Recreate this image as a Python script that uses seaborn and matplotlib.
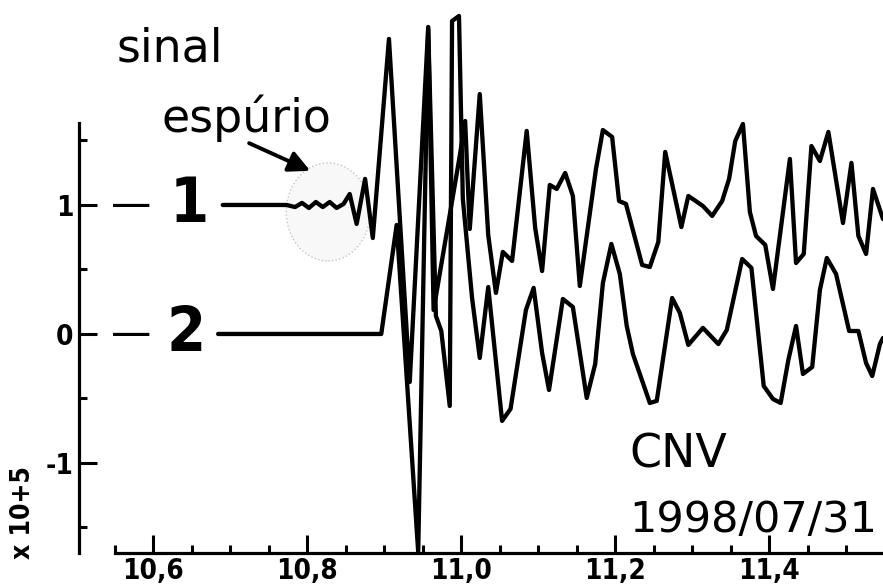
import matplotlib
matplotlib.use('Agg')
import matplotlib.pyplot as plt
from matplotlib.patches import Ellipse
from matplotlib.ticker import FixedLocator, FuncFormatter
import pandas as pd
import seaborn as sns

# traço 1: sinal com o ruído espúrio (deslocado +1), tempo em s, amplitude x 10^5
t1 = [10.690, 10.773, 10.784, 10.793, 10.802, 10.811, 10.820, 10.829, 10.838, 10.847,
      10.855, 10.864, 10.875, 10.885, 10.906, 10.933, 10.957, 10.964, 10.994, 10.998,
      11.005, 11.011, 11.024, 11.035, 11.045, 11.054, 11.066, 11.085, 11.096, 11.105,
      11.115, 11.124, 11.135, 11.145, 11.154, 11.175, 11.184, 11.196, 11.205, 11.214,
      11.235, 11.245, 11.256, 11.265, 11.286, 11.295, 11.314, 11.326, 11.339, 11.348,
      11.356, 11.366, 11.375, 11.383, 11.395, 11.405, 11.427, 11.435, 11.445, 11.455,
      11.466, 11.477, 11.496, 11.507, 11.516, 11.526, 11.535, 11.548]
v1 = [1.000, 1.000, 0.984, 1.016, 0.977, 1.023, 0.984, 1.023, 0.977, 1.008,
      1.085, 0.853, 1.202, 0.744, 2.287, -0.372, 2.380, 0.186, 1.240, 1.380,
      1.651, 0.814, 1.860, 0.767, 0.318, 0.636, 0.566, 1.574, 0.822, 0.488,
      1.155, 1.124, 1.248, 1.070, 0.372, 1.279, 1.581, 1.527, 1.031, 1.008,
      0.535, 0.519, 0.713, 1.411, 0.829, 1.070, 0.992, 0.915, 1.031, 1.202,
      1.496, 1.628, 0.946, 0.760, 0.690, 0.349, 1.357, 0.550, 0.620, 1.457,
      1.341, 1.566, 0.860, 1.326, 0.760, 0.620, 1.124, 0.891]

# traço 2: sinal corrigido
t2 = [10.684, 10.896, 10.916, 10.944, 10.957, 10.967, 10.974, 10.985, 10.988, 10.997,
      11.002, 11.014, 11.024, 11.035, 11.053, 11.064, 11.084, 11.094, 11.105, 11.114,
      11.132, 11.145, 11.163, 11.174, 11.184, 11.195, 11.206, 11.215, 11.223, 11.245,
      11.254, 11.274, 11.284, 11.295, 11.314, 11.334, 11.345, 11.365, 11.377, 11.393,
      11.405, 11.415, 11.425, 11.435, 11.444, 11.456, 11.466, 11.475, 11.487, 11.504,
      11.516, 11.526, 11.534, 11.544, 11.548]
v2 = [0.000, 0.000, 0.845, -1.690, 2.364, 0.140, 0.023, -0.558, 2.426, 2.465,
      1.047, 0.279, -0.186, 0.364, -0.674, -0.581, 0.186, 0.357, -0.147, -0.434,
      0.271, 0.209, -0.496, -0.233, 0.395, 0.698, 0.465, 0.062, -0.155, -0.535,
      -0.519, 0.279, 0.163, -0.085, 0.047, -0.078, 0.031, 0.581, 0.512, -0.403,
      -0.504, -0.535, -0.202, 0.062, -0.310, -0.256, 0.341, 0.589, 0.465, 0.023,
      0.023, -0.225, -0.326, -0.078, -0.031]

x_major = [10.6, 10.8, 11.0, 11.2, 11.4]
x_minor = [10.55, 10.65, 10.7, 10.75, 10.85, 10.9, 10.95, 11.05, 11.1, 11.15,
           11.25, 11.3, 11.35, 11.45, 11.5]
y_major = [-1, 0, 1]
y_labels = ['-1', '0', '1']
y_minor = [-1.5, -0.5, 0.5, 1.5]
trace_names = ['1', '2']
trace_base = [1.0, 0.0]

sns.set_style('ticks')
plt.rcParams['font.family'] = ['DejaVu Sans']
plt.rcParams['text.color'] = 'black'
plt.rcParams['xtick.color'] = 'black'
plt.rcParams['ytick.color'] = 'black'
plt.rcParams['xtick.labelcolor'] = 'black'
plt.rcParams['ytick.labelcolor'] = 'black'
NARROW = dict(family=['DejaVu Sans'], stretch='condensed', weight='bold')

fig = plt.figure(figsize=(8.83, 5.88), dpi=100)
ax = fig.add_axes([115 / 883, 35 / 588, 768 / 883, 553 / 588])

df1 = pd.DataFrame({'t': t1, 'v': v1})
df2 = pd.DataFrame({'t': t2, 'v': v2})
sns.lineplot(data=df1, x='t', y='v', sort=False, estimator=None, color='black',
             lw=3.1, ax=ax, legend=False)
sns.lineplot(data=df2, x='t', y='v', sort=False, estimator=None, color='black',
             lw=3.1, ax=ax, legend=False)

ax.set_xlim(10.55, 11.548)
ax.set_ylim(-1.698, 2.589)
ax.set_xlabel('')
ax.set_ylabel('')

# eixos "soltos" como no sismograma
for s in ['top', 'right']:
    ax.spines[s].set_visible(False)
ax.spines['left'].set_position(('outward', 26))
ax.spines['left'].set_bounds(-1.698, 1.638)
for s in ['left', 'bottom']:
    ax.spines[s].set_linewidth(2.3)
    ax.spines[s].set_color('black')

ax.xaxis.set_major_locator(FixedLocator(x_major))
ax.xaxis.set_minor_locator(FixedLocator(x_minor))
ax.xaxis.set_major_formatter(FuncFormatter(lambda v, _: f'{v:.1f}'.replace('.', ',')))
ax.yaxis.set_major_locator(FixedLocator(y_major))
ax.yaxis.set_minor_locator(FixedLocator(y_minor))
ax.set_yticklabels(y_labels)
ax.tick_params(which='both', direction='in', width=2.2, color='black',
               bottom=True, left=True)
ax.tick_params(which='major', length=13)
ax.tick_params(which='minor', length=6)
ax.tick_params(axis='x', which='major', pad=3)
ax.tick_params(axis='y', which='major', pad=4)
for lab in ax.get_xticklabels() + ax.get_yticklabels():
    lab.set_fontproperties(dict(size=20, **NARROW))

# rótulos dos traços: "— 1", "— 2"
for name, base, dx in zip(trace_names, trace_base, [10.647, 10.642]):
    ax.text(10.571, base + 0.025, '\u2014', fontsize=29, ha='center',
            va='center_baseline')
    ax.text(dx, base + 0.05, name, fontsize=45, ha='center',
            va='center_baseline', **NARROW)

# sinal espúrio destacado
ax.add_patch(Ellipse((10.827, 0.946), 0.109, 0.76, fill=True, facecolor='#f8f8f8',
                     edgecolor='#c4c4c4', lw=1, ls=':', zorder=0))
ax.annotate('', xy=(10.807, 1.256), xytext=(10.721, 1.488),
            arrowprops=dict(arrowstyle='-|>', lw=2.8, color='black', mutation_scale=32),
            annotation_clip=False)

fig.text(117 / 883, 1 - 62 / 588, 'sinal', fontsize=33, ha='left', va='baseline')
fig.text(162 / 883, 1 - 132 / 588, 'espúrio', fontsize=33, ha='left', va='baseline')
fig.text(629 / 883, 1 - 468 / 588, 'CNV', fontsize=33, ha='left', va='baseline')
fig.text(629 / 883, 1 - 532 / 588, '1998/07/31', fontsize=31, ha='left', va='baseline')
fig.text(23 / 883, 1 - 513 / 588, 'x 10+5', rotation=90, fontsize=19,
         ha='center', va='center', **NARROW)

fig.savefig('out.png', dpi=100, facecolor='white')
